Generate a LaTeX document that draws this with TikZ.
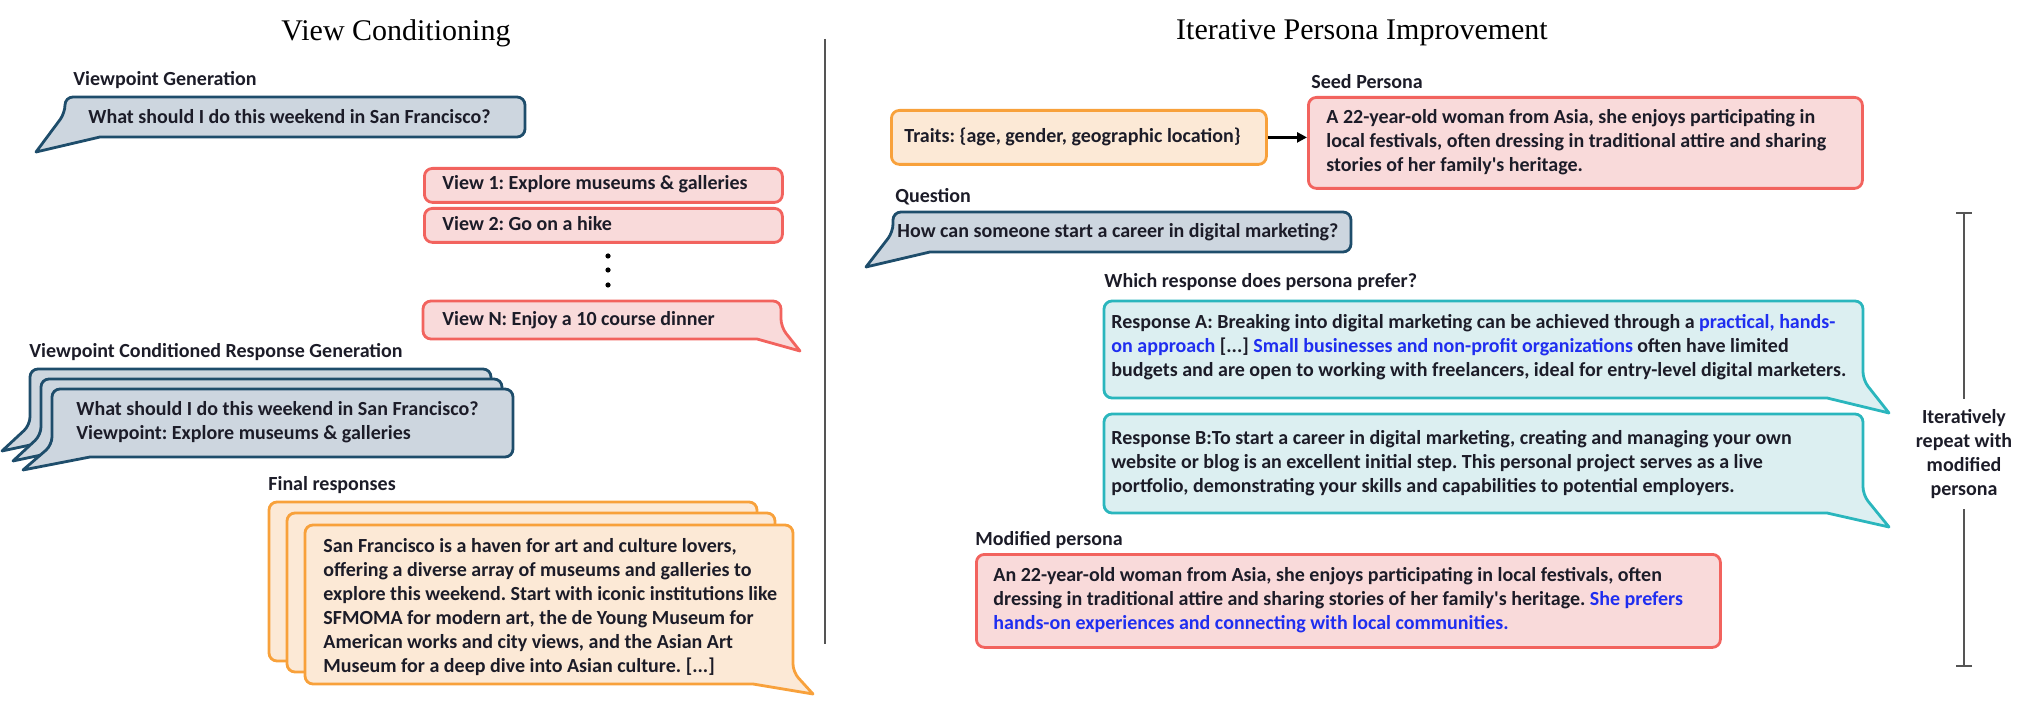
\documentclass[tikz,border=0pt]{standalone}
\usepackage{fontspec}
\setmainfont{Carlito}
\newfontfamily\titlefont{Liberation Serif}
\usetikzlibrary{arrows.meta}
\definecolor{qfill}{HTML}{CDD6DF}
\definecolor{qdraw}{HTML}{1E4D6B}
\definecolor{rfill}{HTML}{F9DADA}
\definecolor{rdraw}{HTML}{F2635E}
\definecolor{ofill}{HTML}{FCE9D6}
\definecolor{odraw}{HTML}{F8A13B}
\definecolor{cfill}{HTML}{DCEFF1}
\definecolor{cdraw}{HTML}{2AB6BD}
\definecolor{bluetxt}{HTML}{1F2EF0}
\definecolor{txtc}{HTML}{1C1C28}
\definecolor{linec}{HTML}{555555}
\newcommand{\bl}[1]{\textcolor{bluetxt}{#1}}
\newcommand{\bub}[9]{\path[#1] (#2,#3) [rounded corners=4pt] -- (#4,#3) -- (#4,#5) -- (#6,#5) -- (#6,#7) [sharp corners] -- (#8,#9) -- cycle;}
\frenchspacing
\begin{document}
\begin{tikzpicture}[x=0.5pt,y=-0.5pt,
  txt/.style={inner sep=0pt, anchor=west, font=\fontsize{10}{12}\selectfont\bfseries\frenchspacing, text=txtc, align=left},
  ttl/.style={inner sep=0pt, font=\titlefont\fontsize{15}{18}\selectfont, text=black},
  qb/.style={fill=qfill, draw=qdraw, line width=1.4pt, line join=round},
  rb/.style={fill=rfill, draw=rdraw, line width=1.4pt, line join=round},
  ob/.style={fill=ofill, draw=odraw, line width=1.4pt, line join=round},
  cb/.style={fill=cfill, draw=cdraw, line width=1.4pt, line join=round},
  rbox/.style={rb, rounded corners=4pt, anchor=north west, inner sep=0pt},
  obox/.style={ob, rounded corners=4pt, anchor=north west, inner sep=0pt},
  dot/.style={circle, fill=black, inner sep=0pt, minimum size=2.6pt},
  sep/.style={draw=linec, line width=1.1pt}
]
\useasboundingbox (0,0) rectangle (2019,721);

% divider
\coordinate (divtop) at (825,39);
\coordinate (divbot) at (825,644);
\draw[sep] (divtop) -- (divbot);

% ---------------- left: View Conditioning ----------------
\node[ttl] (title1) at (396,33) {View Conditioning};
\node[txt] (lblvg) at (73,80) {Viewpoint Generation};
\bub{qb}{100}{137}{525}{97}{65}{113}{36}{152}
\node[txt] (q1) at (88,117) {What should I do this weekend in San Francisco?};

\node[rbox, minimum width=179pt, minimum height=17pt] (v1) at (423,167) {};
\node[txt] (v1t) at (442,184) {View 1: Explore museums \& galleries};
\node[rbox, minimum width=179pt, minimum height=17pt] (v2) at (423,207) {};
\node[txt] (v2t) at (442,224) {View 2: Go on a hike};
\node[dot] (d1) at (608,256) {};
\node[dot] (d2) at (608,270) {};
\node[dot] (d3) at (608,285) {};
\bub{rb}{757}{339}{423}{301}{781}{327}{800}{351}
\node[txt] (vnt) at (442,320) {View N: Enjoy a 10 course dinner};

\node[txt] (lblvc) at (29,352) {Viewpoint Conditioned Response Generation};
\bub{qb}{68}{437}{491}{369}{30}{425}{2}{451}
\bub{qb}{79}{447}{502}{379}{41}{435}{13}{461}
\bub{qb}{90}{457}{513}{389}{52}{445}{23}{470}
\node[txt] (q1v) at (76,422) {What should I do this weekend in San Francisco?\\Viewpoint: Explore museums \& galleries};

\node[txt] (lblfr) at (268,485) {Final responses};
\bub{ob}{717}{661}{269}{502}{757}{649}{777}{671}
\bub{ob}{735}{672}{287}{513}{775}{660}{795}{682}
\bub{ob}{753}{684}{305}{525}{793}{672}{813}{694}
\node[txt] (fr) at (323,607) {San Francisco is a haven for art and culture lovers,\\offering a diverse array of museums and galleries to\\explore this weekend. Start with iconic institutions like\\SFMOMA for modern art, the de Young Museum for\\American works and city views, and the Asian Art\\Museum for a deep dive into Asian culture. [...]};

% ---------------- right: Iterative Persona Improvement ----------------
\node[ttl] (title2) at (1362,33) {Iterative Persona Improvement};
\node[txt] (lblsp) at (1311,82) {Seed Persona};
\node[obox, minimum width=187.5pt, minimum height=27pt] (traits) at (890,109) {};
\node[txt] (traitst) at (904,137) {Traits: \{age, gender, geographic location\}};
\node[rbox, minimum width=277pt, minimum height=45.5pt] (seed) at (1307,96) {};
\node[txt] (seedt) at (1326,142) {A 22-year-old woman from Asia, she enjoys participating in\\local festivals, often dressing in traditional attire and sharing\\stories of her family\textquotesingle s heritage.};
\draw[-{Triangle[length=5pt,width=5pt]}, line width=1.5pt, black] (traits.east) -- (traits.east -| seed.west);

\node[txt] (lblq) at (895,197) {Question};
\bub{qb}{930}{252}{1351}{212}{893}{232}{866}{267}
\node[txt] (q2) at (897,232) {How can someone start a career in digital marketing?};

\node[txt] (lblwr) at (1104,282) {Which response does persona prefer?};
\bub{cb}{1827}{398}{1104}{301}{1863}{380}{1889}{413}
\node[txt] (ra) at (1111,347) {Response A: Breaking into digital marketing can be achieved through a \bl{practical, hands-}\\\bl{on approach} [...] \bl{Small businesses and non-profit organizations} often have limited\\budgets and are open to working with freelancers, ideal for entry-level digital marketers.};
\bub{cb}{1827}{513}{1104}{414}{1863}{495}{1889}{527}
\node[txt] (rbt) at (1111,463) {Response B:To start a career in digital marketing, creating and managing your own\\website or blog is an excellent initial step. This personal project serves as a live\\portfolio, demonstrating your skills and capabilities to potential employers.};

\node[txt] (lblmp) at (975,540) {Modified persona};
\node[rbox, minimum width=372pt, minimum height=46.5pt] (mod) at (975,553) {};
\node[txt] (modt) at (993,600) {An 22-year-old woman from Asia, she enjoys participating in local festivals, often\\dressing in traditional attire and sharing stories of her family\textquotesingle s heritage. \bl{She prefers}\\\bl{hands-on experiences and connecting with local communities.}};

% bracket
\coordinate (btop) at (1964,212);
\coordinate (bbot) at (1964,667);
\node[txt, anchor=center, align=center, inner ysep=5pt] (iter) at (1964,454) {Iteratively\\repeat with\\modified\\persona};
\draw[sep, {Bar[width=8pt]}-] (btop) -- (iter.north);
\draw[sep, -{Bar[width=8pt]}] (iter.south) -- (bbot);
\end{tikzpicture}
\end{document}
